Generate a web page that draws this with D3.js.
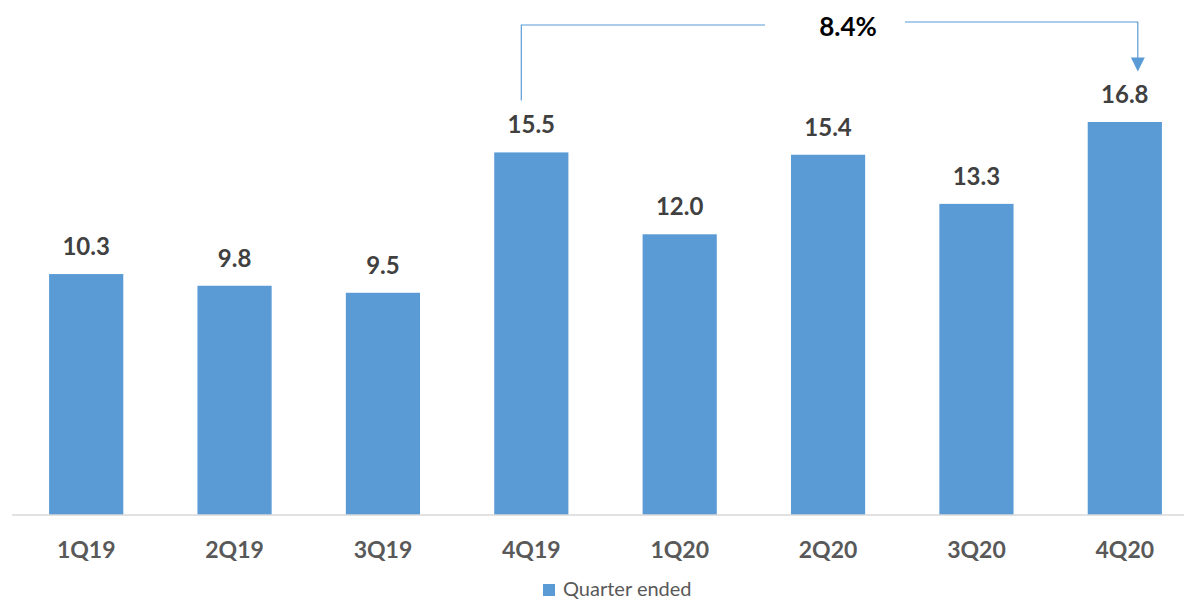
<!DOCTYPE html>
<html>
<head>
<meta charset="utf-8">
<script src="https://cdn.jsdelivr.net/npm/d3@7"></script>
<style>
  body { margin: 0; background: #fff; }
  text { font-family: Lato, "Open Sans", sans-serif; }
</style>
</head>
<body>
<script>
var w = 1184;
var h = 600;

var quarters = ["1Q19", "2Q19", "3Q19", "4Q19", "1Q20", "2Q20", "3Q20", "4Q20"];
var values = [10.3, 9.8, 9.5, 15.5, 12.0, 15.4, 13.3, 16.8];
var seriesName = "Quarter ended";
var growthLabel = "8.4%";
var growthFrom = "4Q19";
var growthTo = "4Q20";

var baseY = 515;

var svg = d3.select("body")
    .append("svg")
    .attr("width", w)
    .attr("height", h);

var xScale = d3.scaleBand()
    .domain(quarters)
    .range([12, 1199])
    .paddingInner(0.5)
    .paddingOuter(0.25);

var yScale = d3.scaleLinear()
    .domain([0, 16.8])
    .range([baseY, 122]);

// bars
svg.selectAll("rect.bar")
    .data(values)
    .enter()
    .append("rect")
    .attr("class", "bar")
    .attr("x", function (d, i) { return xScale(quarters[i]); })
    .attr("y", function (d) { return yScale(d); })
    .attr("width", xScale.bandwidth())
    .attr("height", function (d) { return baseY - yScale(d); })
    .attr("fill", "#5b9bd5");

// value labels
svg.selectAll("text.val")
    .data(values)
    .enter()
    .append("text")
    .attr("class", "val")
    .attr("x", function (d, i) { return xScale(quarters[i]) + xScale.bandwidth() / 2; })
    .attr("y", function (d) { return yScale(d) - 19; })
    .attr("text-anchor", "middle")
    .attr("font-size", 24)
    .attr("font-weight", "bold")
    .attr("fill", "#404040")
    .text(function (d) { return d.toFixed(1); });

// x axis
var xAxis = d3.axisBottom(xScale).tickSize(0).tickPadding(27);
var xAxisGroup = svg.append("g")
    .attr("transform", "translate(0," + baseY + ")")
    .call(xAxis);
xAxisGroup.select(".domain").remove();
xAxisGroup.append("line")
    .attr("x1", 12).attr("x2", w)
    .attr("stroke", "#d9d9d9").attr("stroke-width", 1.5);
xAxisGroup.selectAll(".tick text")
    .attr("font-family", "Lato, 'Open Sans', sans-serif")
    .attr("font-size", 23)
    .attr("font-weight", "bold")
    .attr("fill", "#595959");

// legend
var legend = svg.append("g").attr("transform", "translate(543,584)");
legend.append("rect").attr("width", 12).attr("height", 12).attr("fill", "#5b9bd5");
legend.append("text")
    .attr("x", 20).attr("y", 12)
    .attr("font-size", 20)
    .attr("fill", "#595959")
    .text(seriesName);

// growth annotation
var fromIdx = quarters.indexOf(growthFrom);
var x1 = xScale(growthFrom) + xScale.bandwidth() / 2 - 10;
var x2 = xScale(growthTo) + xScale.bandwidth() / 2 + 13;

svg.append("defs").append("marker")
    .attr("id", "arrow")
    .attr("viewBox", "0 0 10 10")
    .attr("refX", 9).attr("refY", 5)
    .attr("markerWidth", 15).attr("markerHeight", 14)
    .attr("markerUnits", "userSpaceOnUse")
    .attr("orient", "auto")
    .append("path")
    .attr("d", "M0,0 L10,5 L0,10 Z")
    .attr("fill", "#5b9bd5");

svg.append("path")
    .attr("d", "M" + x1 + "," + (yScale(values[fromIdx]) - 52) + " V25 H765")
    .attr("fill", "none")
    .attr("stroke", "#5b9bd5")
    .attr("stroke-width", 1.2);

svg.append("path")
    .attr("d", "M905,22 H" + x2 + " V70")
    .attr("fill", "none")
    .attr("stroke", "#5b9bd5")
    .attr("stroke-width", 1.2)
    .attr("marker-end", "url(#arrow)");

svg.append("text")
    .attr("x", 848).attr("y", 36)
    .attr("text-anchor", "middle")
    .attr("font-size", 26)
    .attr("font-weight", "bold")
    .attr("fill", "#000")
    .text(growthLabel);
</script>
</body>
</html>
